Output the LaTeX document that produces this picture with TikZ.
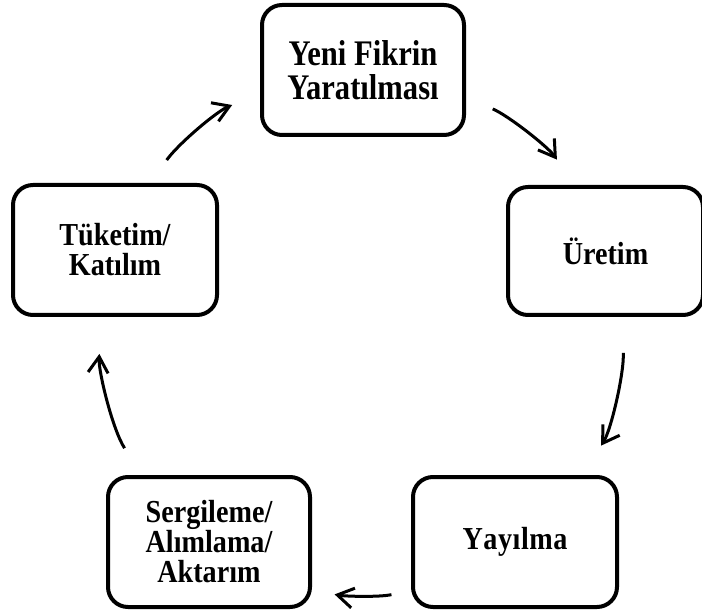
\documentclass[tikz,border=0pt]{standalone}
\usepackage{fontspec}
\usepackage{graphicx}
\setmainfont{Liberation Serif}
\usetikzlibrary{arrows.meta}
\newcommand\sqzs[1]{\scalebox{0.88}[1]{#1}}
\newcommand\sqzb[1]{\scalebox{0.85}[1]{#1}}
\begin{document}
\begin{tikzpicture}[x=1pt,y=1pt,
  box/.style={draw, line width=4pt, rounded corners=20pt, minimum height=130pt,
    align=center, inner sep=0pt, font=\fontsize{32}{30}\selectfont\bfseries},
  bigtext/.style={font=\fontsize{36}{34}\selectfont\bfseries},
  arr/.style={line width=3pt, -{Straight Barb[length=16pt,width=20pt]}, looseness=0.85}]
\useasboundingbox (0,0) rectangle (702,614);
\clip (0,0) rectangle (702,614);
\fill[white] (0,0) rectangle (702,614);

\node[box, bigtext, minimum width=202pt] (top) at (363,544)
  {\sqzb{Yeni Fikrin}\\\sqzb{Yaratılması}};
\node[box, minimum width=195pt, minimum height=128pt] (rt) at (605.5,363) {\sqzs{Üretim}};
\node[box, minimum width=204pt] (br) at (515,72) {\sqzs{Y\kern0.6pt a\kern0.6pt y\kern0.6pt ı\kern0.6pt l\kern0.6pt m\kern0.6pt a}};
\node[box, minimum width=202pt] (bl) at (209,72) {\sqzs{Sergileme/}\\\sqzs{Alımlama/}\\\sqzs{Aktarım}};
\node[box, minimum width=204pt] (tk) at (115,364) {\sqzs{Tüketim/}\\\sqzs{Katılım}};

\draw[arr, shorten <=28pt, shorten >=30pt] (tk.62) to[out=55, in=202] (top.193);
\draw[arr, shorten <=29pt, shorten >=31pt] (top.-15) to[out=-23, in=125] (rt.115);
\draw[arr, shorten <=36pt, shorten >=35pt] (rt.-77) to[out=-86, in=57] (br.45);
\draw[arr, shorten <=20pt, shorten >=23pt] (br.205) to[out=192, in=-11] (bl.-25);
\draw[arr, shorten <=32pt, shorten >=37pt] (bl.135) to[out=123, in=266] (tk.259);
\end{tikzpicture}
\end{document}
